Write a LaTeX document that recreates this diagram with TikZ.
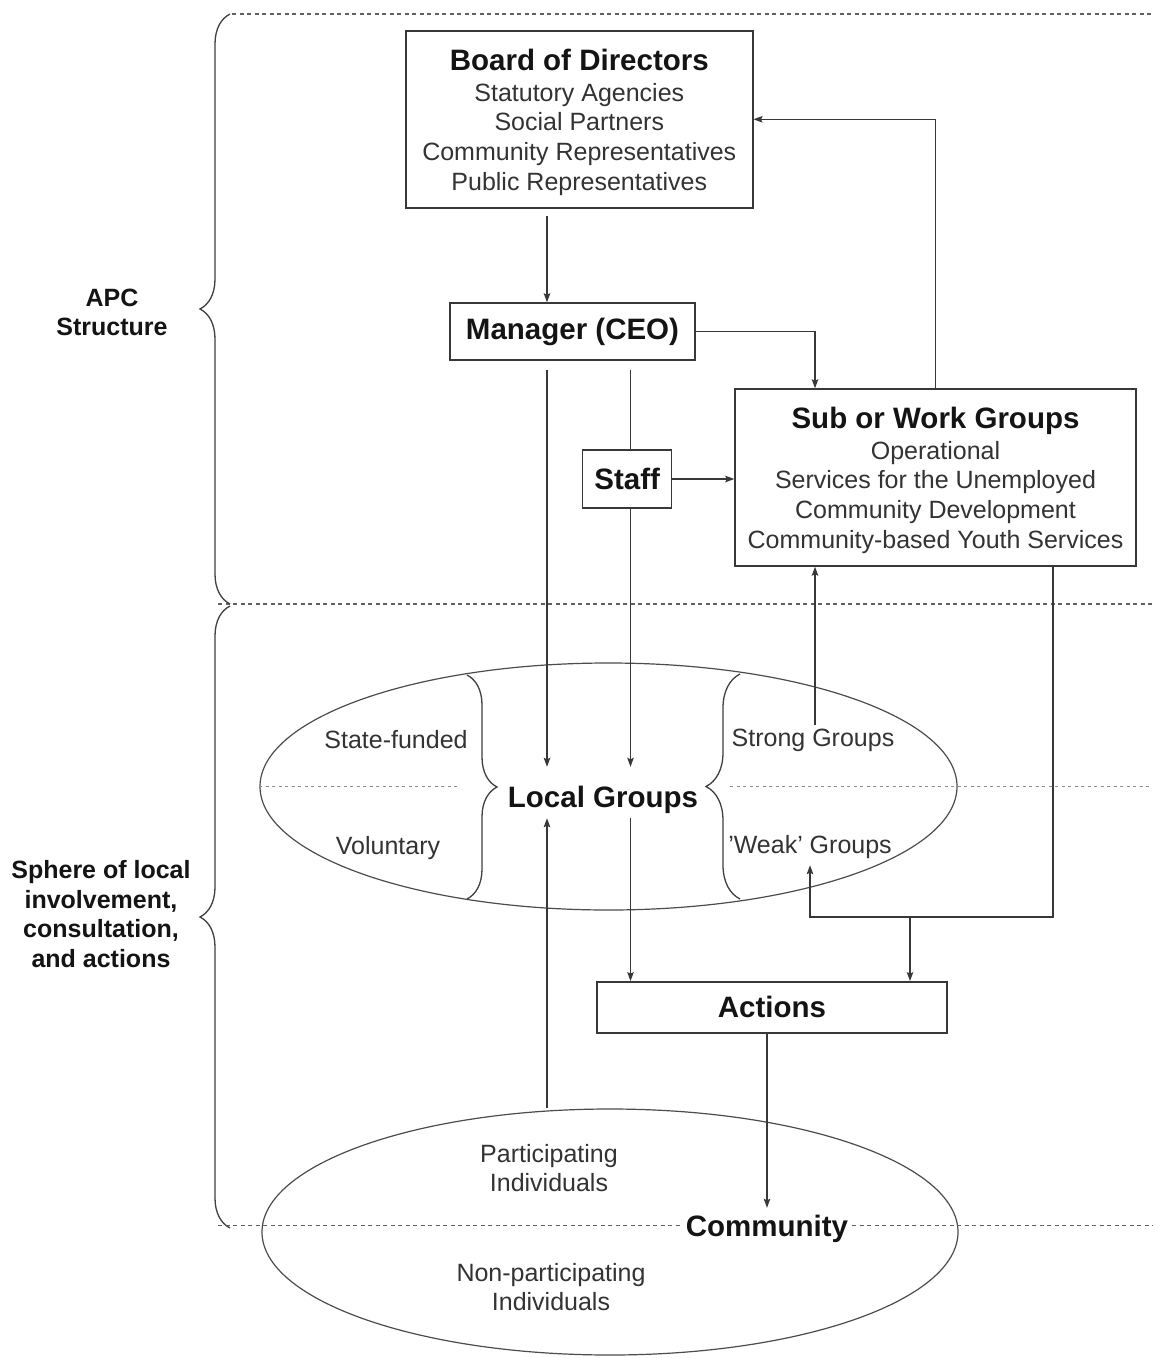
\documentclass[tikz,border=0pt]{standalone}
\usepackage{fontspec}
\setmainfont{Liberation Sans}
\usetikzlibrary{arrows.meta,shapes.geometric,decorations.pathreplacing}
% heading line inside the multi-line boxes
\newcommand\boxhead{\fontsize{29.5}{32}\selectfont\bfseries\color{black!92}\rule{0pt}{27pt}}
\begin{document}
\begin{tikzpicture}[x=1pt,y=-1pt,
  every node/.style={inner sep=0pt},
  reg/.style={font=\fontsize{25}{29.7}\selectfont, text=black!80},
  bold/.style={font=\fontsize{29.5}{32}\selectfont\bfseries, text=black!92},
  side/.style={font=\fontsize{25}{29.5}\selectfont\bfseries, align=center, text=black!92},
  box/.style={draw=black!78, line width=1.4pt, align=center},
  link/.style={draw=black!78, line width=1.3pt},
  arr/.style={link, -{Stealth[length=9pt,width=6.5pt,inset=1.5pt]}},
  sep/.style={draw=black!62, line width=1.1pt, dash pattern=on 4pt off 3.5pt},
  septhin/.style={draw=black!45, line width=0.9pt, dash pattern=on 3pt off 3.5pt},
  grp/.style={draw=black!70, line width=1.2pt, ellipse, inner sep=0pt},
  curly/.style={draw=black!75, line width=1.3pt, decorate, decoration={brace, amplitude=#1}}
]
\useasboundingbox (0,0) rectangle (1153,1358);
\fill[white] (0,0) rectangle (1153,1358);

% vertical lanes used by the connectors
\coordinate (laneA) at (547,0);
\coordinate (laneB) at (630.5,0);
\coordinate (laneC) at (815,0);
\coordinate (laneE) at (1053,0);
\coordinate (fork) at (910,917);

% horizontal separators between the two spheres
\draw[sep] (232,14) -- (1153,14);
\draw[sep] (218,604) -- (1153,604);

% side braces and their labels
\draw[curly=30pt] (230,604) -- (230,14);
\draw[curly=30pt] (230,1228) -- (230,606);
\node[side] (apc) at (112,312.5) {APC\\Structure};
\node[side] (sphere) at (101,914) {Sphere of local\\involvement,\\consultation,\\and actions};

% group ellipses
\node[grp, minimum width=697, minimum height=247] (lgell) at (608.5,786.5) {};
\node[grp, minimum width=696, minimum height=246] (comell) at (610,1232) {};

% boxes
\node[box, reg, minimum width=347, minimum height=177] (board) at (579.3,119.3)
  {{\boxhead Board of Directors}\\[1pt]
   Statutory Agencies\\ Social Partners\\ Community Representatives\\ Public Representatives};
\node[box, bold, minimum width=245, minimum height=57] (man) at (572.5,331.5) {Manager (CEO)};
\node[box, bold, minimum width=89, minimum height=58] (staff) at (627.2,479) {Staff};
\node[box, reg, minimum width=401, minimum height=177] (sub) at (935.5,477.5)
  {{\boxhead Sub or Work Groups}\\[1pt]
   Operational\\ Services for the Unemployed\\ Community Development\\ Community-based Youth Services};
\node[box, bold, minimum width=350, minimum height=51] (act) at (772,1007.3) {Actions};

% local groups ellipse contents
\draw[septhin] (lgell.west) -- (457,786.5);
\draw[septhin] (730,786.5) -- (1153,786.5);
\draw[curly=30pt] (467,675) -- (467,899);
\draw[curly=34pt] (740,899) -- (740,674);
\node[bold, anchor=base, text height=40, text depth=11, inner xsep=4] (lg) at (603,807) {Local Groups};
\node[reg] (state) at (396,740) {State-funded};
\node[reg] (vol) at (388,848) {Voluntary};
\node[reg, inner ysep=3] (strong) at (813,740) {Strong Groups};
\node[reg, anchor=base, text height=18, text depth=12] (weak) at (810,853) {'Weak' Groups};

% community ellipse contents
\node[bold, anchor=base, text height=28, text depth=7, inner xsep=4] (com) at (767,1236) {Community};
\draw[sep] (218,1225.5) -- (com.west);
\draw[sep] (com.east) -- (1153,1225.5);
\node[reg, align=center] (part) at (549,1168) {Participating\\Individuals};
\node[reg, align=center] (nonpart) at (551,1287) {Non-participating\\Individuals};

% connectors
\draw[arr, shorten <=7pt] (laneA |- board.south) -- (laneA |- man.north);
\draw[arr] (man.east) -| (laneC |- sub.north);
\draw[arr] (sub.north) |- (board.east);
\draw[arr, shorten <=9pt] (laneA |- man.south) -- (laneA |- lg.north);
\draw[link, shorten <=9pt] (laneB |- man.south) -- (laneB |- staff.north);
\draw[arr] (laneB |- staff.south) -- (laneB |- lg.north);
\draw[arr] (staff.east) -- (sub.west |- staff.east);
\draw[arr] (laneC |- strong.north) -- (laneC |- sub.south);
\draw[arr] (laneE |- sub.south) |- (weak.south |- fork) -- (weak.south);
\draw[arr] (fork) -- (fork |- act.north);
\draw[arr] (laneB |- lg.south) -- (laneB |- act.north);
\draw[arr] (laneA |- comell.north) -- (laneA |- lg.south);
\draw[arr] (com.north |- act.south) -- (com.north);
\end{tikzpicture}
\end{document}
